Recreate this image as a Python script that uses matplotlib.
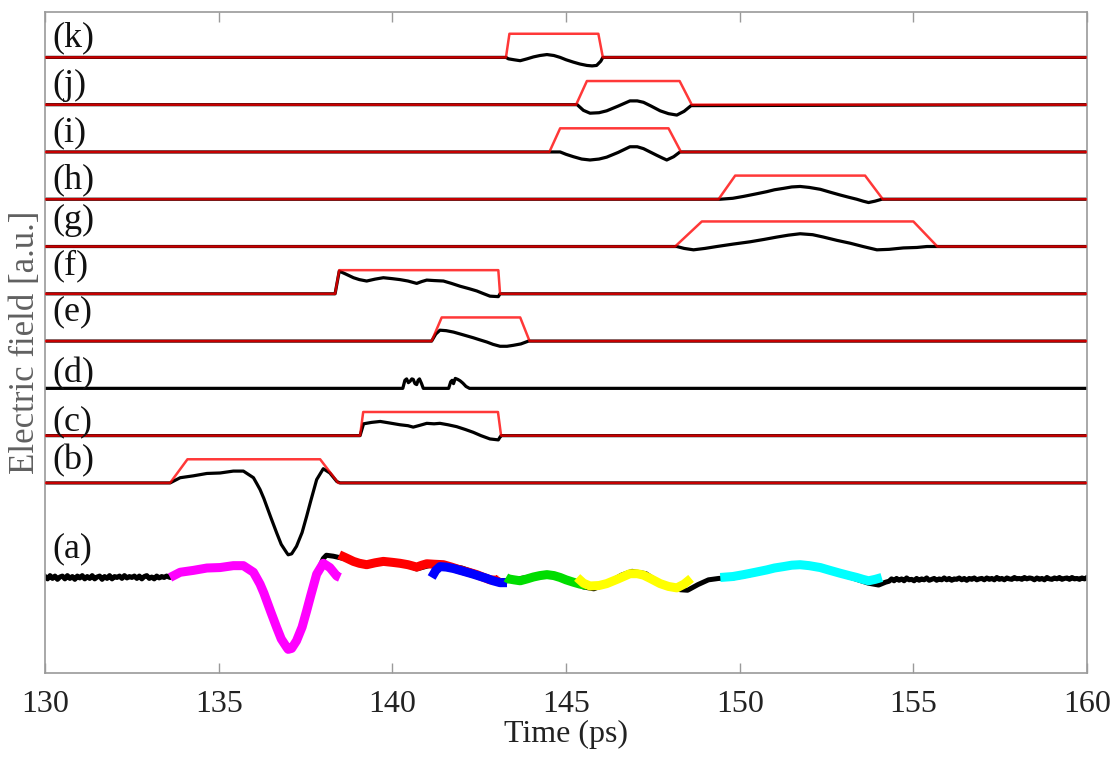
import numpy as np
import matplotlib
matplotlib.use("Agg")
import matplotlib.pyplot as plt

plt.rcParams['font.family'] = ['Liberation Serif', 'DejaVu Serif']

# panel order, bottom to top, and vertical offset of each trace
panels = ['b', 'c', 'd', 'e', 'f', 'g', 'h', 'i', 'j', 'k']
offsets = {'a': -1, 'b': 1, 'c': 2, 'd': 3, 'e': 4, 'f': 5,
           'g': 6, 'h': 7, 'i': 8, 'j': 9, 'k': 10}

# gating windows: rise start, flat start, flat end, fall end (ps)
windows = {
    'b': [133.6, 134.1, 137.92, 138.44],
    'c': [139.07, 139.16, 143.04, 143.13],
    'e': [141.13, 141.42, 143.68, 143.95],
    'f': [138.35, 138.47, 143.05, 143.1],
    'g': [148.14, 148.91, 155.0, 155.69],
    'h': [149.39, 149.87, 153.61, 154.12],
    'i': [144.52, 144.83, 147.95, 148.31],
    'j': [145.29, 145.6, 148.27, 148.62],
    'k': [143.27, 143.37, 145.93, 146.06],
}
window_height = {'b': 0.5, 'c': 0.5, 'e': 0.5, 'f': 0.5, 'g': 0.53,
                 'h': 0.5, 'i': 0.5, 'j': 0.5, 'k': 0.5}

# gated field traces
t_b = [133.6, 133.89, 134.27, 134.66, 135.04, 135.42, 135.71, 136.0, 136.1,
       136.19, 136.3, 136.38, 136.5, 136.67, 136.8, 136.96, 137.0, 137.1,
       137.24, 137.4, 137.53, 137.65, 137.82, 138.01, 138.2, 138.4, 138.49]
v_b = [0.0, 0.11, 0.15, 0.2, 0.21, 0.25, 0.25, 0.11, -0.02,
       -0.14, -0.33, -0.49, -0.73, -1.06, -1.3, -1.48, -1.52, -1.5,
       -1.34, -1.05, -0.71, -0.38, 0.07, 0.3, 0.21, 0.03, 0.0]

t_c = [139.07, 139.17, 139.4, 139.65, 139.9, 140.22, 140.45, 140.6, 140.8,
       140.99, 141.2, 141.37, 141.6, 141.85, 142.1, 142.33, 142.55, 142.81,
       143.05, 143.1, 143.13]
v_c = [0.0, 0.25, 0.28, 0.3, 0.27, 0.23, 0.21, 0.18, 0.22,
       0.26, 0.25, 0.26, 0.23, 0.19, 0.13, 0.07, 0.0, -0.07,
       -0.09, -0.03, 0.0]

t_d = [140.3, 140.36, 140.41, 140.46, 140.51, 140.56, 140.6, 140.65, 140.7,
       140.74, 140.78, 140.84, 140.89,
       141.62, 141.68, 141.72, 141.76, 141.81, 141.88, 141.95, 142.03,
       142.12, 142.22]
v_d = [0.0, 0.17, 0.2, 0.12, 0.15, 0.2, 0.19, 0.1, 0.08,
       0.17, 0.2, 0.1, 0.0,
       0.0, 0.14, 0.17, 0.1, 0.21, 0.19, 0.16, 0.11,
       0.04, 0.0]

t_e = [141.13, 141.25, 141.37, 141.55, 141.76, 142.0, 142.33, 142.5, 142.72,
       142.9, 143.1, 143.3, 143.48, 143.7, 143.92]
v_e = [0.0, 0.15, 0.23, 0.22, 0.19, 0.14, 0.07, 0.03, -0.02,
       -0.07, -0.11, -0.11, -0.09, -0.06, 0.0]

t_f = [138.35, 138.47, 138.65, 138.88, 139.05, 139.26, 139.5, 139.74, 140.0,
       140.22, 140.45, 140.7, 140.85, 140.99, 141.2, 141.47, 141.7, 141.95,
       142.2, 142.43, 142.6, 142.81, 143.05, 143.1]
v_f = [0.0, 0.48, 0.42, 0.34, 0.3, 0.27, 0.31, 0.34, 0.32,
       0.3, 0.27, 0.22, 0.26, 0.29, 0.28, 0.27, 0.22, 0.16,
       0.11, 0.06, 0.01, -0.05, -0.06, 0.0]

t_g = [148.19, 148.4, 148.67, 149.0, 149.34, 149.8, 150.3, 150.7, 151.07,
       151.4, 151.74, 152.1, 152.41, 152.8, 153.18, 153.55, 153.95, 154.3,
       154.71, 155.1, 155.39, 155.68]
v_g = [0.0, -0.04, -0.07, -0.04, 0.0, 0.05, 0.1, 0.15, 0.2,
       0.24, 0.27, 0.25, 0.2, 0.13, 0.07, 0.0, -0.07, -0.06,
       -0.03, -0.02, 0.0, 0.0]

t_h = [149.44, 149.8, 150.11, 150.45, 150.78, 151.0, 151.26, 151.5, 151.74,
       152.0, 152.32, 152.6, 152.89, 153.15, 153.37, 153.55, 153.71, 153.9,
       154.09]
v_h = [0.0, 0.02, 0.06, 0.11, 0.16, 0.2, 0.23, 0.26, 0.27,
       0.25, 0.21, 0.15, 0.09, 0.04, 0.0, -0.04, -0.07, -0.04,
       0.0]

t_i = [144.54, 144.83, 145.0, 145.21, 145.45, 145.69, 145.95, 146.17, 146.5,
       146.84, 147.05, 147.23, 147.42, 147.61, 147.78, 147.9, 148.1, 148.28]
v_i = [0.0, 0.0, -0.05, -0.1, -0.15, -0.17, -0.15, -0.11, -0.01,
       0.11, 0.11, 0.07, 0.0, -0.07, -0.13, -0.17, -0.1, 0.0]

t_j = [145.32, 145.5, 145.69, 145.95, 146.17, 146.5, 146.84, 147.05, 147.23,
       147.45, 147.71, 147.95, 148.19, 148.4, 148.6]
v_j = [0.0, -0.12, -0.18, -0.17, -0.13, -0.03, 0.08, 0.08, 0.05,
       -0.03, -0.13, -0.19, -0.22, -0.14, -0.02]

t_k = [143.27, 143.34, 143.5, 143.68, 143.88, 144.06, 144.25, 144.45, 144.65,
       144.83, 145.0, 145.21, 145.4, 145.6, 145.75, 145.88, 146.0, 146.06]
v_k = [0.0, -0.03, -0.05, -0.07, -0.03, 0.01, 0.04, 0.06, 0.04,
       0.0, -0.05, -0.1, -0.14, -0.17, -0.18, -0.17, -0.08, 0.0]

traces = {'b': (t_b, v_b), 'c': (t_c, v_c), 'd': (t_d, v_d), 'e': (t_e, v_e),
          'f': (t_f, v_f), 'g': (t_g, v_g), 'h': (t_h, v_h), 'i': (t_i, v_i),
          'j': (t_j, v_j), 'k': (t_k, v_k)}

# full measured field (a): noisy leading edge, main pulse, tail
noise_left = [0.02, -0.03, 0.04, -0.02, 0.03, -0.04, 0.01, 0.03, -0.03, 0.04,
              -0.02, 0.02, -0.04, 0.03, -0.01, 0.04, -0.03, 0.02, -0.02, 0.04,
              -0.03, 0.01, 0.03, -0.04, 0.02, -0.02, 0.04, -0.03, 0.02, 0.0,
              0.03, -0.02, 0.04, -0.01, 0.02, 0.0, 0.03, -0.02, 0.03, -0.03,
              0.02, 0.04, -0.02, 0.01, -0.03, 0.03, -0.01, 0.02, 0.0, 0.03]
t_mid = [138.01, 138.1, 138.3, 138.6, 138.9, 139.3, 139.7, 140.2, 140.7,
         141.2, 141.5, 142.0, 142.5, 143.0, 143.3, 143.7, 144.1, 144.4,
         144.8, 145.2, 145.5, 145.8, 146.2, 146.6, 146.9, 147.3, 147.7,
         148.0, 148.3, 148.5, 148.8, 149.1, 149.4, 149.8, 150.3, 150.8,
         151.3, 151.7, 152.2, 152.7, 153.2, 153.7, 154.0, 154.2]
v_mid = [0.4, 0.47, 0.45, 0.4, 0.35, 0.29, 0.35, 0.32, 0.18,
         0.28, 0.26, 0.2, 0.07, -0.06, -0.07, -0.02, 0.03, 0.07,
         0.02, -0.08, -0.2, -0.24, -0.12, 0.05, 0.13, 0.08, -0.12,
         -0.22, -0.26, -0.27, -0.15, -0.05, -0.02, -0.01, 0.06, 0.15,
         0.24, 0.29, 0.22, 0.12, 0.0, -0.12, -0.16, -0.1]
noise_right = [-0.08, -0.03, -0.07, -0.02, -0.06, -0.03, -0.07, -0.01, -0.05,
               -0.04, -0.07, -0.02, -0.06, -0.03, -0.05, -0.01, -0.06, -0.04,
               -0.02, -0.06, -0.03, -0.05, -0.01, -0.05, -0.02, -0.06, -0.03,
               -0.04, -0.01, -0.05, -0.02, -0.06, -0.02, -0.04, -0.01, -0.05,
               -0.03, -0.02, -0.05, -0.01, -0.04, -0.02, -0.05, 0.0, -0.04,
               -0.02, -0.05, -0.01, -0.03, -0.04, 0.0, -0.03, -0.02, -0.04,
               0.0, -0.03, -0.01, -0.02, -0.05, -0.01, -0.04, -0.02, -0.05,
               0.0, -0.03, -0.04, -0.01, -0.03, 0.0, -0.04, -0.02, -0.01,
               -0.04, 0.0, -0.03, -0.02, -0.04, -0.01, -0.03, 0.0]

# coloured overlays on (a): gated trace, colour, shown time span (ps)
overlays = [('b', '#ff00ff', 133.0, 138.5),
            ('f', '#ff0000', 138.4, 143.2),
            ('e', '#0000ff', 141.0, 143.3),
            ('k', '#00dd00', 143.2, 145.65),
            ('j', '#ffff00', 145.2, 148.7),
            ('h', '#00ffff', 149.3, 154.2)]

letters = ['a', 'b', 'c', 'd', 'e', 'f', 'g', 'h', 'i', 'j', 'k']
label_y = [-0.40, 1.47, 2.29, 3.30, 4.62, 5.59, 6.56, 7.41, 8.40, 9.41, 10.41]

t_start, t_end = 130, 160

fig = plt.figure(figsize=(11.18, 7.60), dpi=100)
ax = fig.add_axes([0.0403, 0.1145, 0.932, 0.8697])

for p in panels:
    t, v = traces[p]
    y0 = offsets[p]
    tt = [t_start] + list(t) + [t_end]
    vv = [0.0] + list(v) + [0.0]
    ax.plot(tt, np.array(vv) + y0, color='black', lw=2.3,
            solid_joinstyle='round', zorder=2)
    if p in windows:
        w = windows[p]
        hgt = window_height[p]
        wt = [t_start, w[0], w[1], w[2], w[3], t_end]
        wv = [0, 0, hgt, hgt, 0, 0]
        ax.plot(wt, np.array(wv) + y0, color='#ff0000', lw=1.8, alpha=0.78,
                solid_joinstyle='round', zorder=3)

# trace (a)
t_left = np.linspace(t_start, 133.5, len(noise_left))
t_right = np.linspace(154.3, t_end, len(noise_right))
n_pulse = t_b.index(137.82) + 1
ta = list(t_left) + t_b[:n_pulse] + t_mid + list(t_right)
va = noise_left + v_b[:n_pulse] + v_mid + noise_right
ax.plot(ta, np.array(va) + offsets['a'], color='black', lw=3.6, zorder=2)

for p, c, lo, hi in overlays:
    t, v = traces[p]
    t = np.array(t)
    v = np.array(v)
    keep = (t >= lo) & (t <= hi)
    ax.plot(t[keep], v[keep] + offsets['a'], color=c, lw=6.5,
            solid_capstyle='butt', solid_joinstyle='round', zorder=4)

for letter, ly in zip(letters, label_y):
    ax.text(130.2, ly, f'({letter})', fontsize=26, ha='left', va='center',
            color='#111111', zorder=5)

ax.set_xlim(t_start, t_end)
ax.set_ylim(-3.02, 10.96)
ax.set_xticks(np.arange(130, 161, 5))
ax.set_yticks([])
ax.tick_params(axis='x', direction='in', top=True, length=7, width=1,
               color='#9a9a9a', labelsize=23, labelcolor='#222222', pad=12)
for s in ax.spines.values():
    s.set_color('#9a9a9a')
    s.set_linewidth(1.2)

ax.set_xlabel('Time (ps)', fontsize=23, color='#222222', labelpad=1)
ax.set_ylabel('Electric field [a.u.]', fontsize=25, color='#606060', labelpad=2)

fig.savefig('out.png', dpi=100)
